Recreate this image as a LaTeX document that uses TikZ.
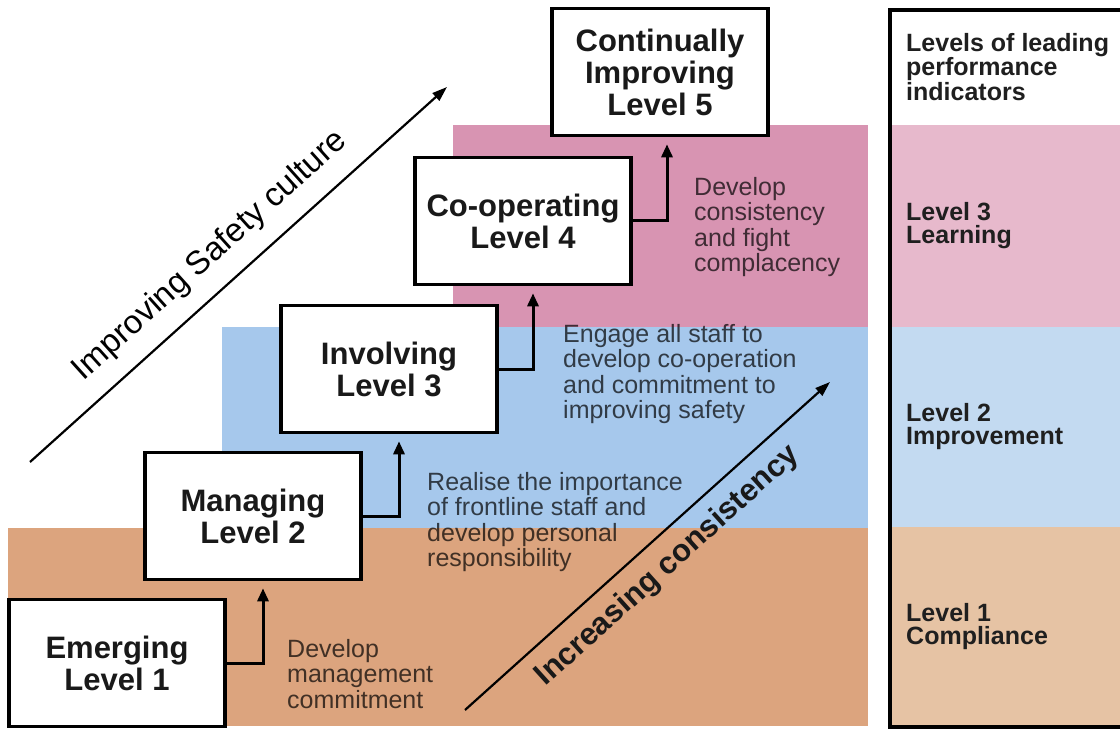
\documentclass[tikz,border=0pt]{standalone}
\usepackage{fontspec}
\setmainfont{Liberation Sans}
\usetikzlibrary{arrows.meta}
\definecolor{bandorange}{HTML}{DCA47E}
\definecolor{bandblue}{HTML}{A6C8EC}
\definecolor{bandpink}{HTML}{D894B2}
\definecolor{lightorange}{HTML}{E6C3A4}
\definecolor{lightblue}{HTML}{C3DAF1}
\definecolor{lightpink}{HTML}{E7B9CC}
\begin{document}
\begin{tikzpicture}[x=1pt,y=-1pt,
  levelbox/.style={draw=black, line width=3.6pt, fill=white, minimum width=216pt,
    minimum height=127pt, inner sep=0pt, align=center,
    font=\fontsize{31}{32}\selectfont\bfseries, text=black!90},
  conn/.style={line width=3pt, -{Triangle[length=13pt,width=11pt]}, shorten >=7pt},
  desc/.style={anchor=north west, align=left, inner sep=0pt,
    font=\fontsize{25}{25.5}\selectfont, text=black, text opacity=0.7},
  rightlabel/.style={anchor=west, align=left, inner sep=0pt,
    font=\fontsize{25}{23}\selectfont\bfseries, text=black!88},
  diag/.style={line width=2.2pt, -{Triangle[length=15pt,width=10pt]}}]
\clip (0,0) rectangle (1120,730);
\useasboundingbox (0,0) rectangle (1120,730);
% left bands
\fill[bandorange] (8,528) rectangle (868,726);
\fill[bandblue] (222,327) rectangle (868,528);
\fill[bandpink] (453,125) rectangle (868,327);
% right panel
\fill[lightpink] (890,125) rectangle (1130,327);
\fill[lightblue] (890,327) rectangle (1130,527);
\fill[lightorange] (890,527) rectangle (1130,727);
\draw[line width=4pt] (890,10) rectangle (1140,727);
\node[rightlabel] (h) at (906,67) {Levels of leading\\performance\\indicators};
\node[rightlabel] (r3) at (906,226) {Level 3\\Learning};
\node[rightlabel] (r2) at (906,427) {Level 2\\Improvement};
\node[rightlabel] (r1) at (906,627) {Level 1\\Compliance};
% diagonal arrows
\coordinate (a1s) at (30,462);
\coordinate (a1e) at (447,87);
\draw[diag] (a1s) -- (a1e);
\node[rotate=42, font=\fontsize{33}{33}\selectfont, inner sep=0pt] (t1) at (210,256) {Improving Safety culture};
\coordinate (a2s) at (465,710);
\coordinate (a2e) at (830,382);
\draw[diag] (a2s) -- (a2e);
\node[rotate=42, font=\fontsize{31}{31}\selectfont\bfseries, inner sep=0pt, text=black!90] (t2) at (668,566) {Increasing consistency};
% level boxes
\node[levelbox] (l1) at (117,663) {Emerging\\Level 1};
\node[levelbox] (l2) at (253,516) {Managing\\Level 2};
\node[levelbox] (l3) at (389,369) {Involving\\Level 3};
\node[levelbox] (l4) at (523,221) {Co-operating\\Level 4};
\node[levelbox] (l5) at (660,72) {Continually\\Improving\\Level 5};
% connectors
\draw[conn] (l1.east) -| ([xshift=10pt]l2.south);
\draw[conn] (l2.east) -| ([xshift=10pt]l3.south);
\draw[conn] (l3.east) -| ([xshift=10pt]l4.south);
\draw[conn] (l4.east) -| ([xshift=7pt]l5.south);
% descriptions
\node[desc] (d1) at (287,639) {Develop\\management\\commitment};
\node[desc] (d2) at (427,472) {Realise the importance\\of frontline staff and\\develop personal\\responsibility};
\node[desc] (d3) at (563,324) {Engage all staff to\\develop co-operation\\and commitment to\\improving safety};
\node[desc] (d4) at (694,177) {Develop\\consistency\\and fight\\complacency};
\end{tikzpicture}
\end{document}
